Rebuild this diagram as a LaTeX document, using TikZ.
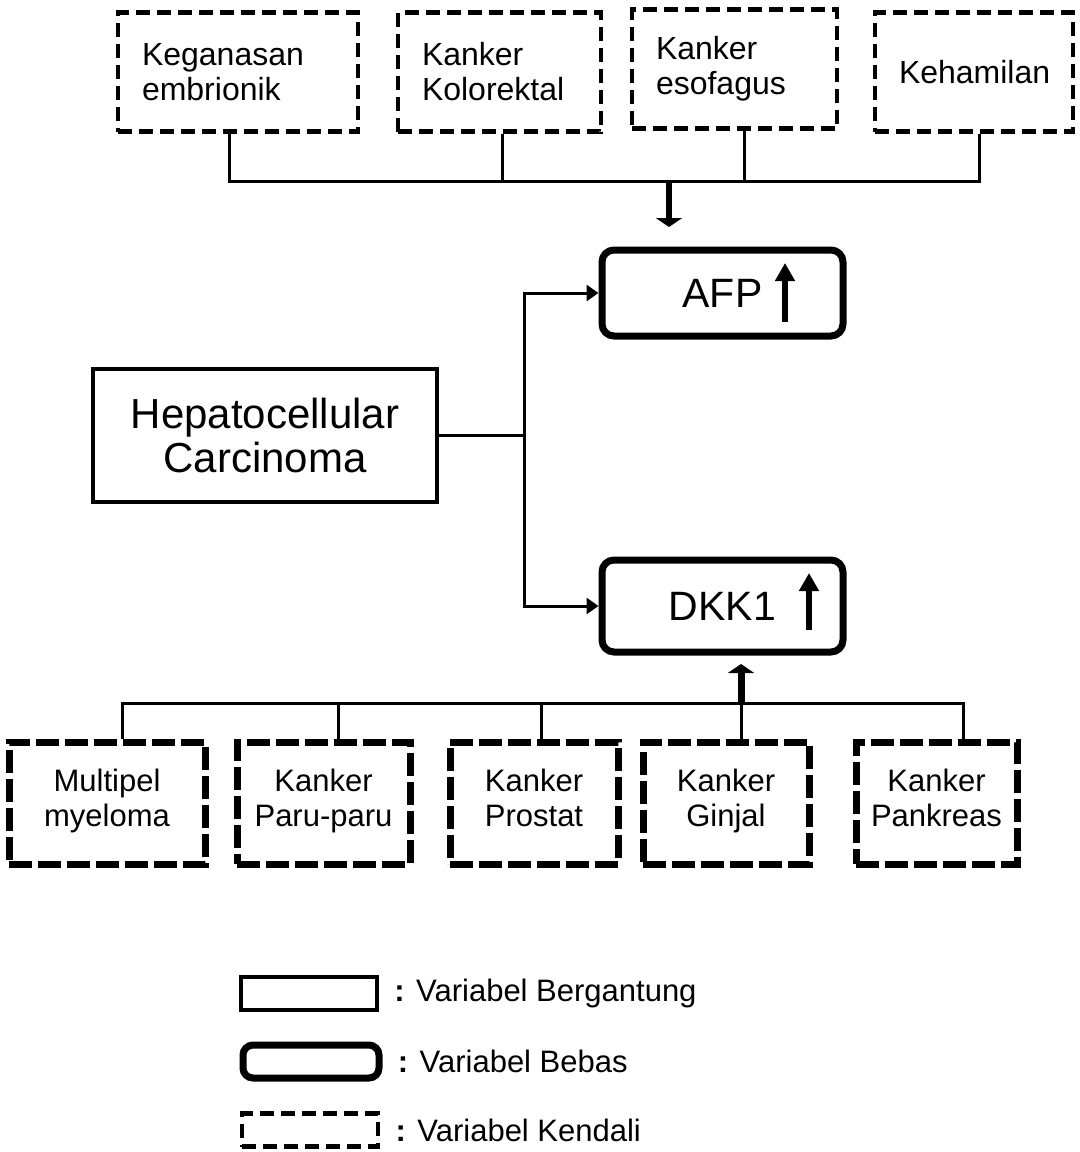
\documentclass[tikz,border=0pt]{standalone}
\usepackage{fontspec}
\setmainfont{Liberation Sans}
\usetikzlibrary{arrows.meta,positioning}

\begin{document}
\begin{tikzpicture}[x=0.5pt,y=-0.5pt,
  txt/.style={font=\fontsize{15.5}{17.5}\selectfont},
  ctrl/.style={draw,line width=2.25pt,dash pattern=on 7pt off 3.5pt},
  ctrltop/.style={ctrl,minimum height=59.5pt,inner xsep=12pt,txt,
    font=\fontsize{16}{17.5}\selectfont,align=left,text width=#1},
  ctrlbot/.style={draw,line width=3.5pt,dash pattern=on 11.5pt off 3pt,
    minimum height=61pt,minimum width=#1,inner xsep=2pt,txt,align=center,
    execute at begin node={\rule{0pt}{19pt}},execute at end node=\strut},
  indep/.style={draw,line width=3.5pt,rounded corners=6pt},
  indbox/.style={indep,minimum width=120.5pt,minimum height=#1,
    font=\fontsize{20.5}{24}\selectfont},
  dep/.style={draw,line width=2.2pt},
  key/.style={minimum width=68pt,minimum height=16.5pt},
  keytxt/.style={txt,inner sep=0pt,right=7.5pt of #1},
  bus/.style={line width=1.5pt},
  link/.style={line width=1.5pt,-{Triangle[length=6pt,width=8pt]}},
  fat/.style={line width=#1,-{Triangle[length=4.5pt,width=13pt]}},
  rise/.style={line width=3.2pt,-{Triangle[length=9pt,width=9.5pt]}}]
\useasboundingbox (0,0) rectangle (1080,1152);

% kendali (atas)
\node[ctrltop=96pt] (keg) at (238,72) {Keganasan\\embrionik};
\node[ctrltop=77.5pt] (kol) at (499.5,72) {Kanker\\Kolorektal};
\node[ctrltop=78.5pt] (eso) at (734.5,69) {Kanker\\esofagus};
\node[ctrltop=75pt,align=center] (ham) at (974,72) {Kehamilan};

% bergantung / bebas
\node[dep,minimum width=172pt,minimum height=66.5pt,align=center,
  font=\fontsize{21}{22}\selectfont] (hcc) at (265,435.5)
  {Hepatocellular\\Carcinoma};
\node[indbox=43pt] (afp) at (722.5,293) {AFP};
\node[indbox=46pt] (dkk) at (722.5,606) {DKK1};

% kendali (bawah)
\node[ctrlbot=98pt] (mye) at (107,803) {Multipel\\myeloma};
\node[ctrlbot=86.5pt] (paru) at (323.5,803) {Kanker\\Paru-paru};
\node[ctrlbot=84pt] (pros) at (534,803) {Kanker\\Prostat};
\node[ctrlbot=83pt] (ginj) at (726,803) {Kanker\\Ginjal};
\node[ctrlbot=80.5pt] (pank) at (936.5,803) {Kanker\\Pankreas};

\coordinate (busT) at (669,181);
\coordinate (busB) at (741,703);

\foreach \n/\s in {keg/-4.5pt,kol/1.25pt,eso/4.75pt,ham/2.5pt}
  \draw[bus] ([xshift=\s]\n.south) |- (busT);
\draw[fat=2.8pt] (busT) -- ++(0,46);

\foreach \n/\s in {mye/7.5pt,paru/7.25pt,pros/3.5pt,ginj/7.5pt,pank/13.25pt}
  \draw[bus] (busB) -| ([xshift=\s]\n.north);
\draw[fat=3.5pt] (busB) -- ++(0,-39);

\draw[bus] (hcc.east) -- ++(85,0) coordinate (split);
\draw[link] (split) |- (afp.west);
\draw[link] (split) |- (dkk.west);

\draw[rise] ([xshift=31.25pt,yshift=-14.5pt]afp.center)
  -- ([xshift=31.25pt,yshift=15pt]afp.center);
\draw[rise] ([xshift=43.25pt,yshift=-12pt]dkk.center)
  -- ([xshift=43.25pt,yshift=16.5pt]dkk.center);

% keterangan
\node[dep,key,line width=2pt] (lg1) at (309,993) {};
\node[indep,key,rounded corners=5pt] (lg2) at (311,1061.5) {};
\node[ctrl,key] (lg3) at (310,1130) {};
\node[keytxt=lg1] {\textbf{:} Variabel Bergantung};
\node[keytxt=lg2] {\textbf{:} Variabel Bebas};
\node[keytxt=lg3] {\textbf{:} Variabel Kendali};
\end{tikzpicture}
\end{document}
